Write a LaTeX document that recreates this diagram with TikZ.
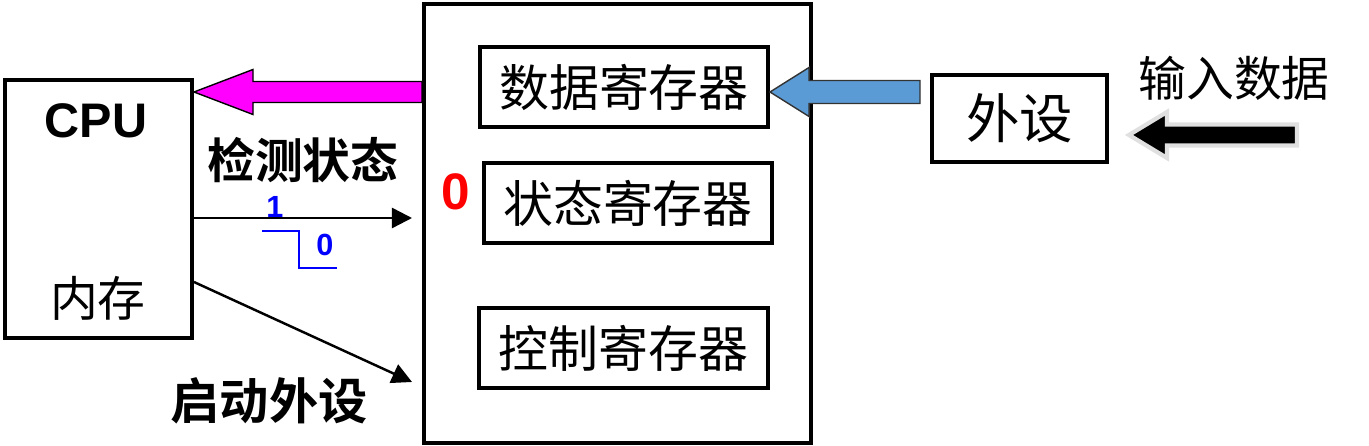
\documentclass[tikz,border=0pt]{standalone}
\usepackage{fontspec}
\setmainfont{Liberation Sans}
\newfontfamily\cjk{Noto Sans CJK SC}[BoldFont={Noto Sans CJK SC Bold}]
\usepackage{xcolor}
\usepackage{tikz}
\usetikzlibrary{shapes,arrows.meta,positioning,calc}
\definecolor{datablue}{HTML}{5B9BD5}
\definecolor{busmagenta}{HTML}{FF00FF}

% left-pointing block arrow: style, tip, tail, head length, head half, shaft half
\newcommand{\leftblock}[6]{%
  \draw[#1] let \p1=(#2), \p2=(#3) in
    (\p1) -- (\x1+#4,\y1+#5) -- (\x1+#4,\y1+#6) -- (\x2,\y1+#6)
    -- (\x2,\y1-#6) -- (\x1+#4,\y1-#6) -- (\x1+#4,\y1-#5) -- cycle;}

\begin{document}
\begin{tikzpicture}[x=0.01cm,y=-0.01cm,
  box/.style={draw,line width=1.1pt,inner sep=0pt},
  reg/.style={box,minimum width=2.88cm,minimum height=0.8cm,font=\cjk\fontsize{14.2}{16}\selectfont},
  cn/.style={font=\cjk\fontsize{13.6}{16}\selectfont},
  cnb/.style={font=\cjk\bfseries\fontsize{13.6}{16}\selectfont},
  bit/.style={font=\bfseries\fontsize{8.7}{10}\selectfont,text=blue},
  line arrow/.style={-{Triangle[length=0.2cm,width=0.2cm]},line width=0.7pt}]
\useasboundingbox (0,0) rectangle (1369,446);
% CPU side
\node[box,minimum width=1.87cm,minimum height=2.58cm] (cpu) at (98.5,209) {};
\node[font=\bfseries\fontsize{13.8}{16}\selectfont] (cpulbl) at (96,121) {CPU};
\node[cn] (mem) at (98,298) {内存};
% interface
\node[box,minimum width=3.87cm,minimum height=4.39cm] (iobox) at (617.5,223.5) {};
\node[reg] (dreg) at (624,87) {数据寄存器};
\node[reg] (sreg) at (628,203) {状态寄存器};
\node[reg] (creg) at (623.5,348) {控制寄存器};
\node[font=\bfseries\fontsize{14.6}{16}\selectfont,text=red] (flag) at (456,192) {0};
% device
\node[box,minimum width=1.75cm,minimum height=0.87cm,font=\cjk\fontsize{15.2}{17}\selectfont] (dev) at (1019.5,118.5) {外设};
\node[cn] (inlbl) at (1234,78) {输入数据};
\coordinate (inend) at (1297,135);
% block arrows
\leftblock{fill=busmagenta,draw=black,line width=0.4pt}{cpu.east |- 0,92}{iobox.west}{0.59cm}{0.225cm}{0.105cm}
\leftblock{fill=datablue,draw=black!80,line width=0.4pt}{dreg.east |- 0,92}{[xshift=-0.1cm]dev.west}{0.39cm}{0.245cm}{0.115cm}
\leftblock{fill=black,draw=black!12,line width=1.2pt}{[xshift=0.2cm]dev.east |- 0,135}{inend}{0.38cm}{0.23cm}{0.105cm}
% check status
\node[cnb] (chklbl) at (303,160) {检测状态};
\coordinate (chkend) at (412,218);
\draw[line arrow] (cpu.east |- chkend) -- (chkend);
\node[bit] (one) at (275,207) {1};
\node[bit] (zero) at (325,245) {0};
\draw[blue,line width=0.45pt] (262,231) -- (299,231) -- (299,268) -- (337,268);
% start device
\coordinate (startend) at (412,382);
\draw[line arrow] (cpu.east |- 0,282) -- (startend);
\node[cnb,font=\cjk\bfseries\fontsize{14}{16}\selectfont] (startlbl) at (269,401) {启动外设};
\end{tikzpicture}
\end{document}
